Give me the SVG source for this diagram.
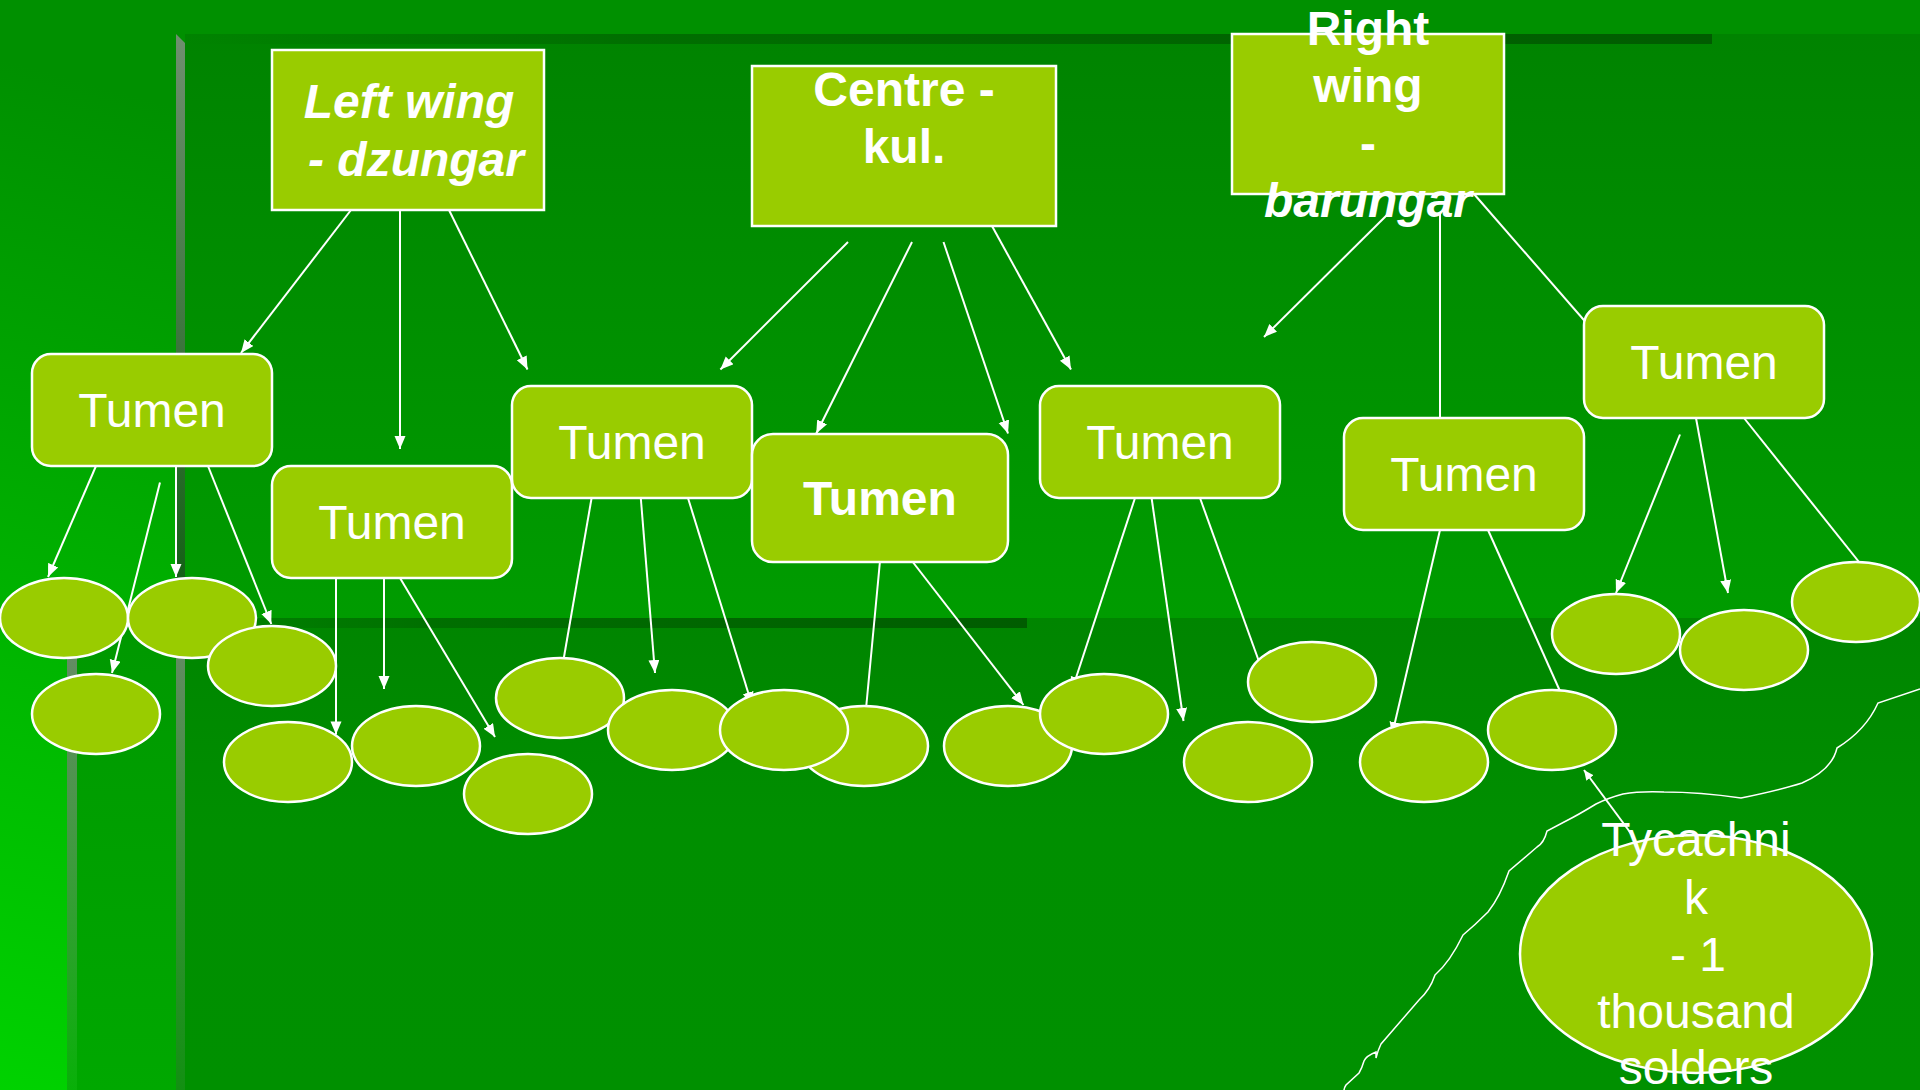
<svg xmlns="http://www.w3.org/2000/svg" width="1920" height="1090" viewBox="0 0 1920 1090">
<style>
.box{fill:#99cc00;stroke:#fff;stroke-width:2.5}
.t{fill:#fff;font-family:"Liberation Sans",Arial,sans-serif;font-size:48px;text-anchor:middle}
.b{font-weight:700}
.i{font-style:italic}
#connectors line{stroke:#fff;stroke-width:2;marker-end:url(#ah)}
</style>
<defs>
<marker id="ah" markerUnits="userSpaceOnUse" markerWidth="14" markerHeight="12" refX="13" refY="5.5" orient="auto"><path d="M0 0L13 5.5L0 11z" fill="#fff"/></marker>
<marker id="ah2" markerUnits="userSpaceOnUse" markerWidth="11" markerHeight="10" refX="10" refY="4.5" orient="auto"><path d="M0 0L10 4.5L0 9z" fill="#fff"/></marker>
<linearGradient id="base" gradientUnits="userSpaceOnUse" x1="300" y1="0" x2="0" y2="1090"><stop offset="0" stop-color="#009000"/><stop offset=".12" stop-color="#009000"/><stop offset="1" stop-color="#00d200"/></linearGradient>
<linearGradient id="pa" x1="0" y1="0" x2="0" y2="1"><stop offset="0" stop-color="#008300"/><stop offset="1" stop-color="#009c00"/></linearGradient>
<linearGradient id="pb" x1="0" y1="0" x2="0" y2="1"><stop offset="0" stop-color="#008500"/><stop offset=".45" stop-color="#008f00"/><stop offset="1" stop-color="#009000"/></linearGradient>
<linearGradient id="pm" x1="0" y1="0" x2="0" y2="1"><stop offset="0" stop-color="#009800"/><stop offset="1" stop-color="#00a800"/></linearGradient>
<linearGradient id="hb" x1="0" y1="0" x2="1" y2="0"><stop offset="0" stop-color="#006000" stop-opacity="0"/><stop offset=".3" stop-color="#006000" stop-opacity=".6"/><stop offset="1" stop-color="#005c00"/></linearGradient>
<linearGradient id="hb2" gradientUnits="userSpaceOnUse" x1="185" y1="0" x2="1027" y2="0"><stop offset="0" stop-color="#006000" stop-opacity="0"/><stop offset=".3" stop-color="#006000" stop-opacity=".6"/><stop offset="1" stop-color="#005c00"/></linearGradient>
<linearGradient id="v1" x1="0" y1="0" x2="0" y2="1"><stop offset="0" stop-color="#6f8f6f"/><stop offset="1" stop-color="#0e5e10"/></linearGradient>
<linearGradient id="v2" x1="0" y1="0" x2="0" y2="1"><stop offset="0" stop-color="#6a8a6a"/><stop offset=".4" stop-color="#3f8f3f"/><stop offset="1" stop-color="#129012"/></linearGradient>
<linearGradient id="v3" x1="0" y1="0" x2="0" y2="1"><stop offset="0" stop-color="#6a8a6a"/><stop offset=".4" stop-color="#4a954a"/><stop offset="1" stop-color="#08b008"/></linearGradient>
</defs>
<g id="background">
<rect width="1920" height="1090" fill="url(#base)"/>
<rect x="185" y="34" width="1735" height="584" fill="url(#pa)"/>
<rect x="77" y="618" width="99" height="472" fill="url(#pm)"/>
<rect x="185" y="618" width="1735" height="472" fill="url(#pb)"/>
<rect x="185" y="34" width="1527" height="10" fill="url(#hb)"/>
<rect x="185" y="618" width="842" height="10" fill="url(#hb2)"/>
<polygon points="176,34 185,43 185,618 176,618" fill="url(#v1)"/>
<rect x="176" y="618" width="9" height="472" fill="url(#v2)"/>
<rect x="67" y="618" width="10" height="472" fill="url(#v3)"/>
</g>
<path id="coast" d="M1920 689L1878 703Q1866 730 1837 748Q1832 770 1802 783Q1780 790 1741 798Q1700 792 1664 792Q1640 791 1623 794Q1608 798 1596 804Q1578 815 1566 821L1547 831Q1544 843 1537 847L1509 871Q1500 897 1488 912Q1475 925 1463 935Q1450 962 1435 975Q1430 990 1419 1000L1381 1044Q1378 1050 1376 1058L1376 1052Q1366 1056 1364 1061Q1362 1068 1359 1073L1346 1085Q1344 1088 1344 1090" fill="none" stroke="#fff" stroke-width="1.5"/>
<g id="e5"><ellipse class="box" cx="288" cy="762" rx="64" ry="40"/></g>
<g id="connectors">
<line x1="351" y1="210" x2="241" y2="353"/>
<line x1="400" y1="210" x2="400" y2="449"/>
<line x1="449" y1="210" x2="527.5" y2="369.5"/>
<line x1="848" y1="242" x2="720.4" y2="369.5"/>
<line x1="912" y1="242" x2="816.3" y2="433.5"/>
<line x1="943.5" y1="242" x2="1008" y2="433.5"/>
<line x1="992" y1="226" x2="1071" y2="369.5"/>
<line x1="1392" y1="210" x2="1264" y2="337"/>
<line x1="1440" y1="212" x2="1440" y2="450"/>
<line x1="1474" y1="194" x2="1610" y2="350"/>
<line x1="96" y1="466" x2="48" y2="577"/>
<line x1="160" y1="482.5" x2="112" y2="673"/>
<line x1="176" y1="466" x2="176" y2="577"/>
<line x1="208" y1="466" x2="271.3" y2="624"/>
<line x1="336" y1="578" x2="336" y2="734.4"/>
<line x1="384" y1="578" x2="384" y2="689"/>
<line x1="400" y1="578" x2="495" y2="737"/>
<line x1="591.6" y1="498" x2="560" y2="680"/>
<line x1="640.8" y1="498" x2="655" y2="673"/>
<line x1="688" y1="498" x2="752" y2="705"/>
<line x1="880" y1="561" x2="864" y2="730"/>
<line x1="912" y1="561" x2="1023.5" y2="705"/>
<line x1="1135" y1="498" x2="1072" y2="690"/>
<line x1="1151.6" y1="498" x2="1183.5" y2="721"/>
<line x1="1200" y1="498" x2="1270" y2="692"/>
<line x1="1440" y1="530" x2="1392" y2="735"/>
<line x1="1488" y1="530" x2="1572" y2="718"/>
<line x1="1680" y1="434.5" x2="1616" y2="593"/>
<line x1="1696" y1="418" x2="1728" y2="593"/>
<line x1="1744" y1="418" x2="1875" y2="582"/>
<line x1="1631" y1="833.5" x2="1584" y2="770" style="marker-end:url(#ah2)"/>
</g>
<g id="leftwing"><rect class="box" x="272" y="50" width="272" height="160"/><text class="t b i" x="409" y="118">Left wing</text><text class="t b i" x="416" y="175.5">- dzungar</text></g>
<g id="centre"><rect class="box" x="752" y="66" width="304" height="160"/><text class="t b" x="904" y="106">Centre -</text><text class="t b" x="904" y="163">kul.</text></g>
<g id="rightwing"><rect class="box" x="1232" y="34" width="272" height="160"/><text class="t b" x="1368" y="44.5">Right</text><text class="t b" x="1368" y="101.5">wing</text><text class="t b" x="1368" y="160">-</text><text class="t b i" x="1368" y="217">barungar</text></g>
<g id="tumen1"><rect class="box" x="32" y="354" width="240" height="112" rx="19"/><text class="t" x="152" y="426.5">Tumen</text></g>
<g id="tumen2"><rect class="box" x="272" y="466" width="240" height="112" rx="19"/><text class="t" x="392" y="538.5">Tumen</text></g>
<g id="tumen3"><rect class="box" x="512" y="386" width="240" height="112" rx="19"/><text class="t" x="632" y="458.5">Tumen</text></g>
<g id="tumen4"><rect class="box" x="752" y="434" width="256" height="128" rx="21"/><text class="t b" x="880" y="514.5">Tumen</text></g>
<g id="tumen5"><rect class="box" x="1040" y="386" width="240" height="112" rx="19"/><text class="t" x="1160" y="458.5">Tumen</text></g>
<g id="tumen6"><rect class="box" x="1344" y="418" width="240" height="112" rx="19"/><text class="t" x="1464" y="490.5">Tumen</text></g>
<g id="tumen7"><rect class="box" x="1584" y="306" width="240" height="112" rx="19"/><text class="t" x="1704" y="378.5">Tumen</text></g>
<g id="e1"><ellipse class="box" cx="64" cy="618" rx="64" ry="40"/></g>
<g id="e2"><ellipse class="box" cx="192" cy="618" rx="64" ry="40"/></g>
<g id="e3"><ellipse class="box" cx="272" cy="666" rx="64" ry="40"/></g>
<g id="e4"><ellipse class="box" cx="96" cy="714" rx="64" ry="40"/></g>
<g id="e6"><ellipse class="box" cx="416" cy="746" rx="64" ry="40"/></g>
<g id="e7"><ellipse class="box" cx="528" cy="794" rx="64" ry="40"/></g>
<g id="e8"><ellipse class="box" cx="560" cy="698" rx="64" ry="40"/></g>
<g id="e9"><ellipse class="box" cx="672" cy="730" rx="64" ry="40"/></g>
<g id="e11"><ellipse class="box" cx="864" cy="746" rx="64" ry="40"/></g>
<g id="e10"><ellipse class="box" cx="784" cy="730" rx="64" ry="40"/></g>
<g id="e12"><ellipse class="box" cx="1008" cy="746" rx="64" ry="40"/></g>
<g id="e13"><ellipse class="box" cx="1104" cy="714" rx="64" ry="40"/></g>
<g id="e14"><ellipse class="box" cx="1248" cy="762" rx="64" ry="40"/></g>
<g id="e15"><ellipse class="box" cx="1312" cy="682" rx="64" ry="40"/></g>
<g id="e16"><ellipse class="box" cx="1424" cy="762" rx="64" ry="40"/></g>
<g id="e17"><ellipse class="box" cx="1552" cy="730" rx="64" ry="40"/></g>
<g id="e18"><ellipse class="box" cx="1616" cy="634" rx="64" ry="40"/></g>
<g id="e19"><ellipse class="box" cx="1744" cy="650" rx="64" ry="40"/></g>
<g id="e20"><ellipse class="box" cx="1856" cy="602" rx="64" ry="40"/></g>
<g id="tycachnik"><ellipse class="box" cx="1696" cy="954" rx="176" ry="119"/><text class="t" x="1696" y="856">Tycachni</text><text class="t" x="1696" y="913.5">k</text><text class="t" x="1698" y="971">- 1</text><text class="t" x="1696" y="1028">thousand</text><text class="t" x="1696" y="1084">solders</text></g>
</svg>
